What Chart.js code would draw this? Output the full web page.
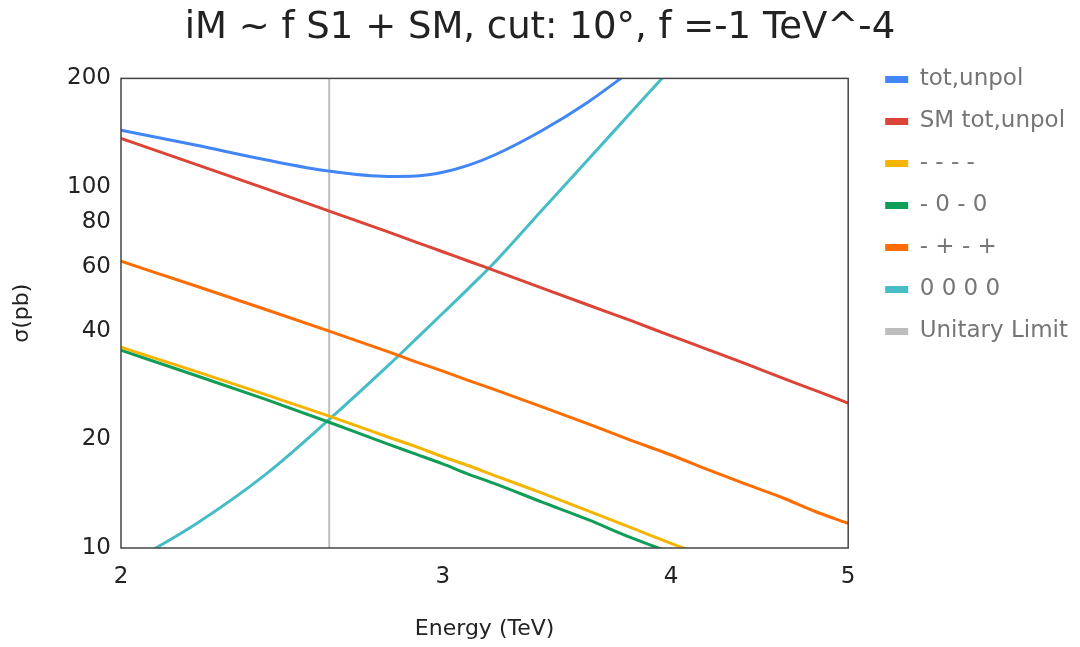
<!DOCTYPE html>
<html><head><meta charset="utf-8">
<script src="https://cdn.jsdelivr.net/npm/chart.js@4.4.1/dist/chart.umd.min.js"></script>
<style>html,body{margin:0;padding:0;background:#fff;}canvas{display:block;}</style>
</head><body>
<canvas id="c" width="1080" height="647"></canvas>
<script>
// ---- data ----
const energies   = [2.0, 2.2, 2.4, 2.6, 2.8, 2.9, 3.0, 3.1, 3.2, 3.4, 3.6, 3.8, 4.0, 4.2, 4.4, 4.6, 4.8, 5.0];
const totUnpol   = [143.8, 130.5, 119.0, 110.7, 107.0, 107.3, 109.9, 115.0, 122.5, 143.5, 171.6, 209.2, null, null, null, null, null, null];
const smTotUnpol = [136.3, 115.4, 99.0, 85.8, 75.1, 70.4, 66.2, 62.3, 58.8, 52.5, 47.2, 42.7, 38.7, 35.3, 32.3, 29.6, 27.3, 25.2];
const mmmm       = [36.0, 30.8, 26.6, 23.2, 20.3, 19.1, 17.9, 16.9, 15.9, 14.2, 12.7, 11.4, 10.3, 9.4, null, null, null, null];
const m0m0       = [35.3, 30.0, 25.8, 22.3, 19.4, 18.2, 17.1, 16.0, 15.1, 13.4, 12.0, 10.7, 9.7, null, null, null, null, null];
const mpmp       = [62.3, 53.1, 45.8, 39.9, 35.0, 32.8, 30.9, 29.1, 27.5, 24.6, 22.1, 19.9, 18.1, 16.4, 15.0, 13.8, 12.6, 11.7];
const z0000      = [8.8, 11.7, 16.0, 22.7, 32.0, 37.9, 44.7, 52.5, 61.6, 86.4, 118.6, 160.3, 213.1, null, null, null, null, null];
const unitaryLimitEnergy = 2.6;
const xTicks = [2, 3, 4, 5];
const yTicks = [10, 20, 40, 60, 80, 100, 200];
const seriesNames = ['tot,unpol', 'SM tot,unpol', '- - - -', '- 0 - 0', '- + - +', '0 0 0 0', 'Unitary Limit'];

// ---- styling ----
const colors = ['#4285F4', '#DB4437', '#F4B400', '#0F9D58', '#FF6D00', '#46BDC6', '#BDBDBD'];
Chart.defaults.font.family = "'DejaVu Sans', sans-serif";

const toPoints = (vals) => energies.map((e, i) => ({x: e, y: vals[i]}));
const seriesVals = [totUnpol, smTotUnpol, mmmm, m0m0, mpmp, z0000];

const datasets = seriesVals.map((vals, i) => ({
  label: seriesNames[i],
  data: toPoints(vals),
  borderColor: colors[i],
  backgroundColor: colors[i],
  borderWidth: 3,
  pointRadius: 0,
  cubicInterpolationMode: 'monotone',
  clip: 0,
  spanGaps: false
}));
datasets.push({
  label: seriesNames[6],
  data: [{x: unitaryLimitEnergy, y: yTicks[0]}, {x: unitaryLimitEnergy, y: yTicks[yTicks.length - 1]}],
  borderColor: colors[6],
  backgroundColor: colors[6],
  borderWidth: 2,
  pointRadius: 0,
  clip: 0
});

const framePlugin = {
  id: 'frame',
  afterDatasetsDraw(chart) {
    const {ctx, chartArea: a} = chart;
    ctx.save();
    ctx.strokeStyle = '#444';
    ctx.lineWidth = 1.5;
    ctx.strokeRect(a.left, a.top, a.right - a.left, a.bottom - a.top);
    ctx.restore();
  }
};

new Chart(document.getElementById('c'), {
  type: 'line',
  data: {datasets},
  plugins: [framePlugin],
  options: {
    responsive: false,
    animation: false,
    devicePixelRatio: 1,
    layout: {padding: {left: 2, right: 2, top: 0, bottom: 2}},
    plugins: {
      title: {
        display: true,
        text: 'iM ~ f S1 + SM, cut: 10°, f =-1 TeV^-4',
        color: '#222',
        font: {size: 37, weight: 'normal'},
        padding: {top: 6, bottom: 28}
      },
      legend: {
        position: 'right',
        align: 'start',
        maxWidth: 260,
        title: {display: true, text: ' ', font: {size: 10}, padding: {top: 37, bottom: 0}},
        labels: {
          boxWidth: 23,
          boxHeight: 7,
          padding: 19,
          color: '#757575',
          font: {size: 23},
          generateLabels(chart) {
            const items = Chart.defaults.plugins.legend.labels.generateLabels(chart);
            items.forEach(it => { it.lineWidth = 0; });
            return items;
          }
        }
      },
      tooltip: {enabled: false}
    },
    scales: {
      x: {
        type: 'logarithmic',
        min: xTicks[0],
        max: xTicks[xTicks.length - 1],
        grid: {display: false, drawTicks: false},
        border: {display: false},
        afterBuildTicks(s) { s.ticks = xTicks.map(v => ({value: v})); },
        afterFit(s) { s.height = 97; },
        ticks: {
          color: '#222',
          font: {size: 23},
          padding: 15,
          autoSkip: false,
          maxRotation: 0,
          callback: (v) => String(v)
        },
        title: {display: true, text: 'Energy (TeV)', color: '#222', font: {size: 22}, padding: {top: 4, bottom: 3}}
      },
      y: {
        type: 'logarithmic',
        min: yTicks[0],
        max: yTicks[yTicks.length - 1],
        grid: {display: false, drawTicks: false},
        border: {display: false},
        afterBuildTicks(s) { s.ticks = yTicks.map(v => ({value: v})); },
        afterFit(s) { s.width = 119; },
        ticks: {
          color: '#222',
          font: {size: 23},
          padding: 10,
          autoSkip: false,
          callback: (v) => String(v)
        },
        title: {display: true, text: 'σ(pb)', color: '#222', font: {size: 22}, padding: {top: 7, bottom: 4}}
      },
      spacer: {
        type: 'linear',
        position: 'right',
        display: true,
        grid: {display: false, drawTicks: false},
        border: {display: false},
        ticks: {display: false},
        afterFit(s) { s.width = 18; }
      }
    }
  }
});
</script>
</body></html>
